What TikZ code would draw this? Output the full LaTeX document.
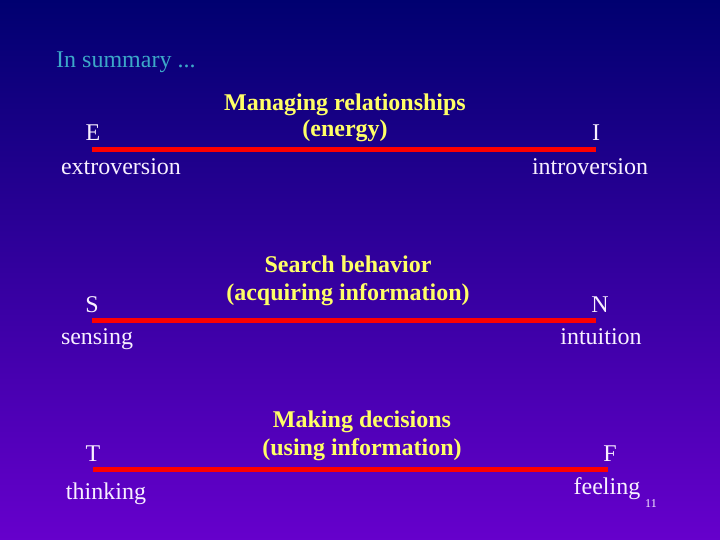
\documentclass[tikz,border=0pt]{standalone}
\usepackage{fontspec}
\setmainfont{Liberation Serif}
\definecolor{bgtop}{RGB}{0,0,112}
\definecolor{bgbot}{RGB}{102,0,204}
\definecolor{titlecol}{RGB}{60,168,200}
\definecolor{headcol}{RGB}{255,255,102}
\definecolor{txtcol}{RGB}{248,240,255}
\definecolor{barcol}{RGB}{255,0,0}
\begin{document}
\begin{tikzpicture}[x=1pt,y=1pt,
  lbl/.style={inner sep=0pt,anchor=base,text=txtcol,font=\fontsize{24}{28}\selectfont},
  head/.style={inner sep=0pt,anchor=base,text=headcol,font=\fontsize{24}{28}\selectfont\bfseries},
  bar/.style={draw=barcol,line width=5pt}]
\useasboundingbox (0,0) rectangle (720,540);
\shade[top color=bgtop,bottom color=bgbot] (0,0) rectangle (720,540);
\node[inner sep=0pt,anchor=base west,text=titlecol,font=\fontsize{24}{28}\selectfont] (title) at (56,472) {In summary ...};
% row 1
\node[head] (h1a) at (345,429) {Managing relationships};
\node[head] (h1b) at (345,403) {(energy)};
\node[lbl] (E) at (93,399) {E};
\node[lbl] (I) at (596,399) {I};
\node[lbl] (ext) at (121,365) {extroversion};
\node[lbl] (intro) at (590,365) {introversion};
\coordinate (l1a) at (92,390);
\coordinate (l1b) at (596,390);
\draw[bar] (l1a) -- (l1b);
% row 2
\node[head] (h2a) at (348,267) {Search behavior};
\node[head] (h2b) at (348,239) {(acquiring information)};
\node[lbl] (S) at (92,227) {S};
\node[lbl] (N) at (600,227) {N};
\node[lbl] (sens) at (97,195) {sensing};
\node[lbl] (intu) at (601,195) {intuition};
\coordinate (l2a) at (92,219);
\coordinate (l2b) at (596,219);
\draw[bar] (l2a) -- (l2b);
% row 3
\node[head] (h3a) at (362,112) {Making decisions};
\node[head] (h3b) at (362,84) {(using information)};
\node[lbl] (T) at (93,78) {T};
\node[lbl] (F) at (610,78) {F};
\node[lbl] (think) at (106,40) {thinking};
\node[lbl] (feel) at (607,45) {feeling};
\node[inner sep=0pt,anchor=base,text=txtcol,font=\fontsize{12}{14}\selectfont] (pg) at (651,32) {11};
\coordinate (l3a) at (93,70);
\coordinate (l3b) at (608,70);
\draw[bar] (l3a) -- (l3b);
\end{tikzpicture}
\end{document}
